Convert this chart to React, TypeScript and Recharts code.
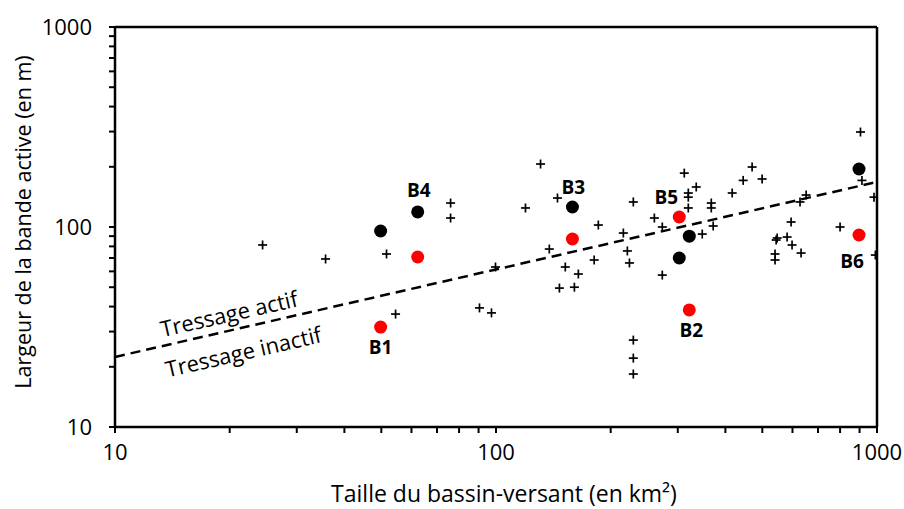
import React from "react";
import { ScatterChart, Scatter, XAxis, YAxis, ReferenceLine } from "recharts";

// study basins: one black and one red measurement each
const basins = ["B1", "B4", "B3", "B5", "B2", "B6"];
const basinArea = [49.8, 62.3, 158.7, 302.7, 321.6, 897];
const widthBlack = [95.5, 118.9, 125.9, 70.0, 90.0, 195];
const widthRed = [31.6, 70.8, 87.1, 112.2, 38.5, 91.2];

// other rivers (crosses)
const otherArea = [
  24.4, 35.7, 51.6, 54.5, 76, 76, 90.5, 97.3, 99.7, 130.9, 119.5, 145, 138, 152,
  164.5, 146.7, 160.6, 185.6, 181, 229.3, 215.9, 221.2, 224, 229.3, 229.3, 229.3,
  260.4, 273.2, 273.2, 312, 335.4, 319.7, 319.7, 319.7, 367.3, 367.3, 371.6, 347.8,
  416.8, 445.4, 470.1, 499.4, 628, 651.6, 595, 580.8, 547, 543.6, 598.5, 632, 540,
  540, 800, 905, 913, 982, 990,
];
const otherWidth = [
  81.3, 69.2, 73.3, 36.7, 131.8, 110.9, 39.4, 37.2, 63.1, 206.5, 124.5, 139.6, 77.6,
  63.1, 58.2, 49.5, 50, 102.3, 68.4, 133.4, 93.3, 75.9, 66.1, 27.2, 22.1, 18.4, 110.9,
  100, 57.5, 186, 158.5, 147.9, 141, 124.5, 131.8, 124.5, 101.2, 92.2, 147.9, 171,
  199.5, 173.8, 133.4, 144.5, 105.9, 89.1, 88.1, 86.1, 81.3, 74.1, 73.3, 68.4, 100,
  298.5, 171, 141, 72.4,
];

// threshold line ends
const trendArea = [10, 1000];
const trendWidth = [22.4, 168];

const zoneNames = ["Tressage actif", "Tressage inactif"];

const axisTicks = [
  10, 20, 30, 40, 50, 60, 70, 80, 90, 100, 200, 300, 400, 500, 600, 700, 800, 900, 1000,
];
const tickLabels = [10, 100, 1000];

const blackData = basins.map((name, i) => ({ name, x: basinArea[i], y: widthBlack[i] }));
const redData = basins.map((name, i) => ({ name, x: basinArea[i], y: widthRed[i] }));
const otherData = otherArea.map((x, i) => ({ x, y: otherWidth[i] }));

// which point carries the label, and where the text sits
const labelPlace: Record<string, { red: boolean; dx: number; dy: number }> = {
  B1: { red: true, dx: 0, dy: 27 },
  B2: { red: true, dx: 2, dy: 27 },
  B3: { red: false, dx: 1, dy: -13 },
  B4: { red: false, dx: 1, dy: -15 },
  B5: { red: true, dx: -13, dy: -13 },
  B6: { red: true, dx: -7, dy: 33 },
};
const labelData = basins.map((name, i) => ({
  name,
  x: basinArea[i],
  y: labelPlace[name].red ? widthRed[i] : widthBlack[i],
}));

// annotation anchors along the dashed line
const zoneData = [
  { x: 19.9, y: 37.2, text: zoneNames[0] },
  { x: 21.7, y: 24.0, text: zoneNames[1] },
];

const Cross = (props: any) => {
  const { cx, cy } = props;
  return (
    <g stroke="#000" strokeWidth={1.7}>
      <line x1={cx - 4.5} y1={cy} x2={cx + 4.5} y2={cy} />
      <line x1={cx} y1={cy - 4.5} x2={cx} y2={cy + 4.5} />
    </g>
  );
};

const Dot = (color: string) => (props: any) =>
  <circle cx={props.cx} cy={props.cy} r={6.5} fill={color} />;

const BasinLabel = (props: any) => {
  const p = labelPlace[props.payload.name];
  return (
    <text x={props.cx + p.dx} y={props.cy + p.dy} textAnchor="middle" fontSize={19} fontWeight="bold" fill="#000">
      {props.payload.name}
    </text>
  );
};

const ZoneLabel = (props: any) => (
  <text
    x={props.cx}
    y={props.cy}
    textAnchor="middle"
    dominantBaseline="central"
    fontSize={22}
    fill="#000"
    transform={`rotate(-12.9, ${props.cx}, ${props.cy})`}
  >
    {props.payload.text}
  </text>
);

const XTick = (props: any) => {
  const { x, y, payload } = props;
  if (!tickLabels.includes(payload.value)) return <g />;
  return (
    <text x={x} y={y} dy={27} textAnchor="middle" fontSize={22} fill="#000">
      {payload.value}
    </text>
  );
};

const YTick = (props: any) => {
  const { x, y, payload } = props;
  if (!tickLabels.includes(payload.value)) return <g />;
  return (
    <text x={x} y={y} dy={8} textAnchor="end" fontSize={22} fill="#000">
      {payload.value}
    </text>
  );
};

export default function App() {
  return (
    <div style={{ position: "absolute", left: 0, top: 0, fontFamily: "'Open Sans', sans-serif", background: "#fff" }}>
      <ScatterChart width={904} height={509} margin={{ top: 27, right: 27, bottom: 0, left: 0 }}>
        <XAxis
          type="number"
          dataKey="x"
          scale="log"
          domain={[10, 1000]}
          ticks={axisTicks}
          interval={0}
          allowDataOverflow
          height={82}
          tickSize={6}
          tickMargin={0}
          tick={<XTick />}
          axisLine={{ stroke: "#000", strokeWidth: 2.5 }}
          tickLine={{ stroke: "#000", strokeWidth: 2 }}
          label={{
            value: "Taille du bassin-versant (en km²)",
            position: "insideBottom",
            offset: 7,
            dx: 8,
            fill: "#000",
            style: { fontSize: "23px" },
          }}
        />
        <YAxis
          type="number"
          dataKey="y"
          scale="log"
          domain={[10, 1000]}
          ticks={axisTicks}
          interval={0}
          allowDataOverflow
          width={115}
          tickSize={6}
          tickMargin={17}
          tick={<YTick />}
          axisLine={{ stroke: "#000", strokeWidth: 2.5 }}
          tickLine={{ stroke: "#000", strokeWidth: 2 }}
          label={{
            value: "Largeur de la bande active (en m)",
            angle: -90,
            position: "insideLeft",
            offset: 23,
            dy: -5,
            fill: "#000",
            style: { textAnchor: "middle", fontSize: "21.5px" },
          }}
        />
        <ReferenceLine y={1000} stroke="#000" strokeWidth={2.5} />
        <ReferenceLine x={1000} stroke="#000" strokeWidth={2.5} />
        <ReferenceLine
          segment={[
            { x: trendArea[0], y: trendWidth[0] },
            { x: trendArea[1], y: trendWidth[1] },
          ]}
          stroke="#000"
          strokeWidth={2.5}
          strokeDasharray="10 6"
        />
        <Scatter data={otherData} shape={Cross} isAnimationActive={false} />
        <Scatter data={blackData} shape={Dot("#000")} isAnimationActive={false} />
        <Scatter data={redData} shape={Dot("#ff0000")} isAnimationActive={false} />
        <Scatter data={labelData} shape={BasinLabel} isAnimationActive={false} />
        <Scatter data={zoneData} shape={ZoneLabel} isAnimationActive={false} />
      </ScatterChart>
    </div>
  );
}
